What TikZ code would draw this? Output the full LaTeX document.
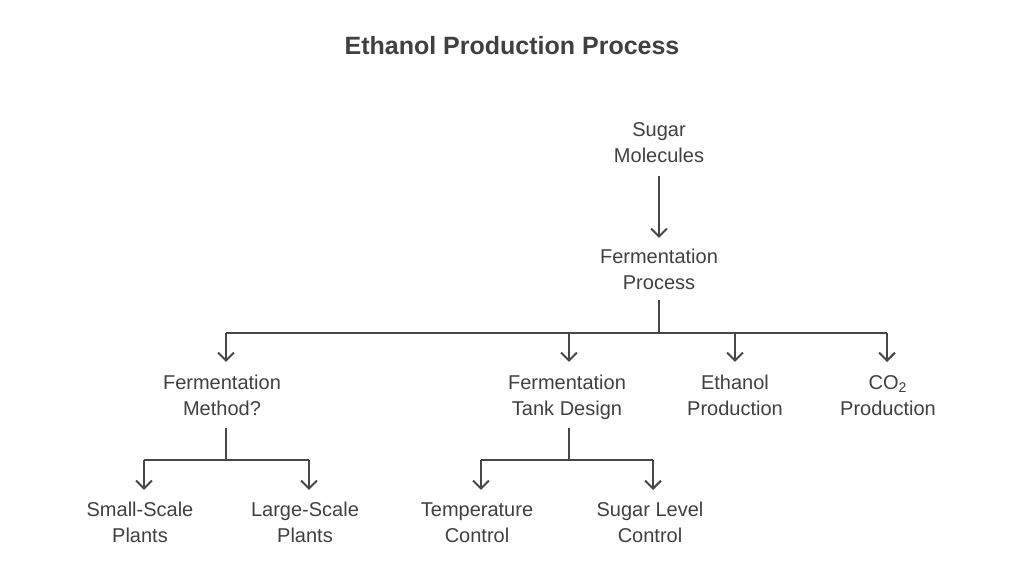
\documentclass[tikz,border=0pt]{standalone}
\usepackage{fontspec}
\setmainfont{Liberation Sans}
\usetikzlibrary{arrows.meta}

\begin{document}
\begin{tikzpicture}[x=0.5pt,y=-0.5pt,
    txt/.style={align=center,anchor=north,text=black!75,font=\fontsize{10}{13}\selectfont,inner sep=0pt},
    link/.style={line width=1pt,draw=black!72},
    arr/.style={link,-{Straight Barb[length=4pt,width=8pt]}}]
    \useasboundingbox (0,0) rectangle (1024,576);

    \node[font=\bfseries\fontsize{12.5}{14}\selectfont,text=black!75] (title) at (512,46) {Ethanol Production Process};

    \node[txt] (sugar) at (659,122) {Sugar\\Molecules};
    \node[txt] (ferm) at (659,249) {Fermentation\\Process};

    \node[txt] (method) at (222,375) {Fermentation\\Method?};
    \node[txt] (tank) at (567,375) {Fermentation\\Tank Design};
    \node[txt] (ethanol) at (735,375) {Ethanol\\Production};
    \node[txt] (co2) at (888,375) {CO\textsubscript{2}\\Production};

    \node[txt] (small) at (140,502) {Small-Scale\\Plants};
    \node[txt] (large) at (305,502) {Large-Scale\\Plants};
    \node[txt] (temp) at (477,502) {Temperature\\Control};
    \node[txt] (level) at (650,502) {Sugar Level\\Control};

    % bus junctions
    \coordinate (busA) at (659,333);
    \coordinate (busB) at (226,460);
    \coordinate (busC) at (569,460);

    \draw[arr] (659,176) -- (659,238);

    \draw[link] (659,300) -- (busA);
    \draw[link] (226,333) -- (887,333);
    \foreach \x in {226,569,735,887}
        \draw[arr] (\x,333) -- (\x,362);

    \draw[link] (226,428) -- (busB);
    \draw[link] (144,460) -- (309,460);
    \foreach \x in {144,309}
        \draw[arr] (\x,460) -- (\x,490);

    \draw[link] (569,428) -- (busC);
    \draw[link] (481,460) -- (653,460);
    \foreach \x in {481,653}
        \draw[arr] (\x,460) -- (\x,490);
\end{tikzpicture}
\end{document}
